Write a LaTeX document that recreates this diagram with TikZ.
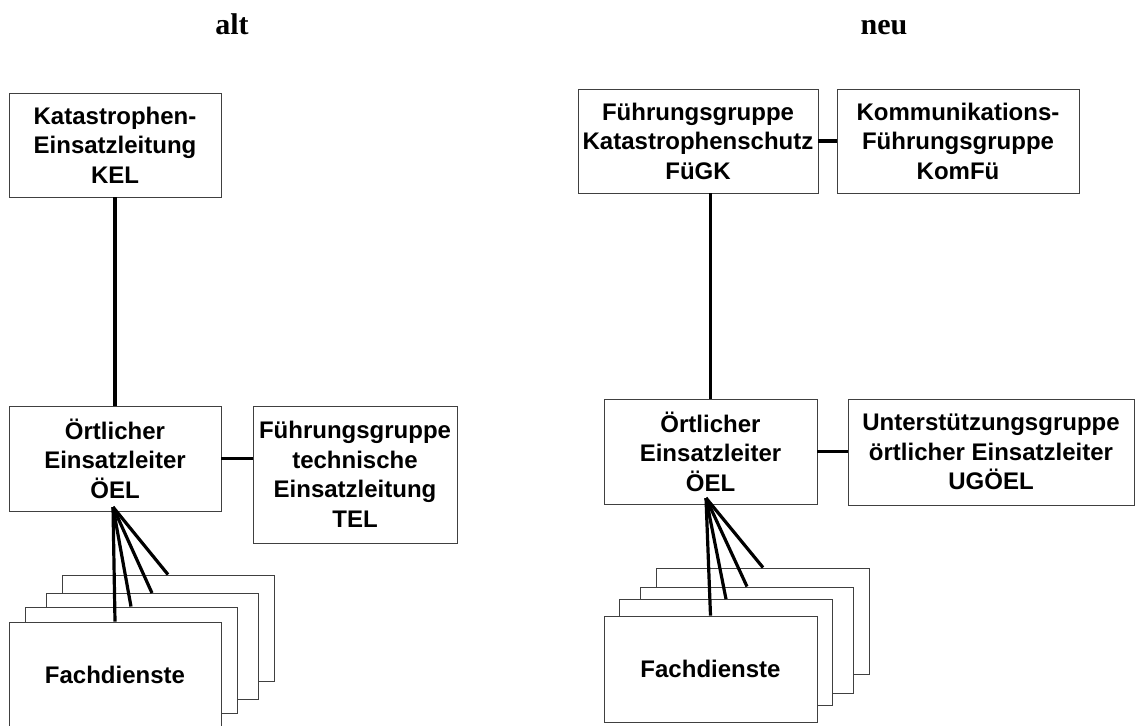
\documentclass[tikz,border=0pt]{standalone}
\usepackage{fontspec}
\setmainfont{Liberation Sans}
\newfontfamily\titlefont{Liberation Serif}
\usetikzlibrary{positioning}

\begin{document}
\begin{tikzpicture}[x=1pt,y=-1pt,
  box/.style={draw=black!75, line width=0.9pt, fill=white, inner xsep=-30pt, inner ysep=0pt,
    align=center, font=\fontsize{24}{29.5}\selectfont\bfseries},
  card/.style={box, minimum width=212pt, minimum height=106pt},
  link/.style={line width=3.2pt},
  heading/.style={anchor=base, font=\titlefont\fontsize{30}{36}\selectfont\bfseries}]

\useasboundingbox (0,0) rectangle (1144,726);

% headings
\node[heading] (alt) at (232,34) {alt};
\node[heading] (neu) at (884,34) {neu};

% alt
\node[box, minimum width=212pt, minimum height=104pt] (kel) at (115,145) {Katastrophen-\\Einsatzleitung\\KEL};
\node[box, minimum width=212pt, minimum height=105pt] (oelalt) at (115,458.5) {Örtlicher\\Einsatzleiter\\ÖEL};
\node[box, minimum width=204pt, minimum height=137pt] (tel) at (355,474.5) {Führungsgruppe\\technische\\Einsatzleitung\\TEL};
\draw[link] (kel) -- (oelalt);
\draw[link] (oelalt.east) -- (oelalt.east -| tel.west);

\foreach \n/\x/\y in {4/168/628, 3/152/646.5, 2/131/660}
  \node[card] (cardalt\n) at (\x,\y) {};
\node[card] (cardalt1) at (115,675) {Fachdienste};
\coordinate (apexalt) at (113,507);
\foreach \n in {1,...,4}
  \draw[link] (apexalt) -- (cardalt\n.north);

% neu
\node[box, minimum width=240pt, minimum height=104pt] (fugk) at (698,141) {Führungsgruppe\\Katastrophenschutz\\FüGK};
\node[box, minimum width=242pt, minimum height=104pt] (komfu) at (958,141) {Kommunikations-\\Führungsgruppe\\KomFü};
\node[box, minimum width=213pt, minimum height=105pt] (oelneu) at (710.5,451.5) {Örtlicher\\Einsatzleiter\\ÖEL};
\node[box, minimum width=286pt, minimum height=106pt] (ugoel) at (991,452) {Unterstützungsgruppe\\örtlicher Einsatzleiter\\UGÖEL};
\draw[link] (fugk.east) -- (fugk.east -| komfu.west);
\draw[link] (oelneu.north) -- (oelneu.north |- fugk.south);
\draw[link] (oelneu.east) -- (oelneu.east -| ugoel.west);

\foreach \n/\x/\y in {4/763/621, 3/747/640, 2/726/652.5}
  \node[card, minimum width=213pt] (cardneu\n) at (\x,\y) {};
\node[card, minimum width=213pt] (cardneu1) at (710.5,669) {Fachdienste};
\coordinate (apexneu) at (706,498);
\foreach \n in {1,...,4}
  \draw[link] (apexneu) -- (cardneu\n.north);

\end{tikzpicture}
\end{document}
